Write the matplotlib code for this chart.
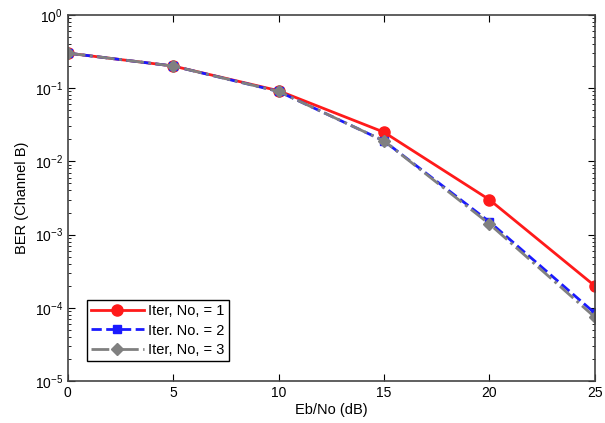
import matplotlib.pyplot as plt
import numpy as np

# --- dados ---
ebno = [0, 5, 10, 15, 20, 25]
ber_iter1 = [0.3, 0.2, 0.092, 0.025, 0.003, 0.0002]
ber_iter2 = [0.3, 0.2, 0.09, 0.019, 0.0015, 0.000085]
ber_iter3 = [0.3, 0.2, 0.09, 0.019, 0.0014, 0.000075]
rotulos = ["Iter, No, = 1", "Iter. No. = 2", "Iter, No, = 3"]

plt.rcParams["font.family"] = ["Liberation Sans", "DejaVu Sans"]

fig = plt.figure(figsize=(6.05, 4.23), dpi=100)
ax = fig.add_axes([0.112, 0.099, 0.871, 0.866])

ax.semilogy(ebno, ber_iter1, color="#ff1a1a", linestyle="-", linewidth=2,
            marker="o", markersize=8, label=rotulos[0])
ax.semilogy(ebno, ber_iter2, color="#1a1aff", linestyle="--", linewidth=2,
            marker="s", markersize=6, label=rotulos[1])
ax.semilogy(ebno, ber_iter3, color="#808080", linestyle="-.", linewidth=2,
            marker="D", markersize=6, label=rotulos[2])

ax.set_xlim(0, 25)
ax.set_ylim(1e-5, 1)
ax.set_xticks([0, 5, 10, 15, 20, 25])
ax.set_yticks([1e-5, 1e-4, 1e-3, 1e-2, 1e-1, 1])
ax.tick_params(which="both", direction="in", top=True, right=True, labelsize=10)
ax.tick_params(which="major", length=5)
ax.tick_params(which="minor", length=2.5)
for s in ax.spines.values():
    s.set_color("#444444")
    s.set_linewidth(1.2)

ax.set_xlabel("Eb/No (dB)", fontsize=10.5, labelpad=2)
ax.set_ylabel("BER (Channel B)", fontsize=10.5, labelpad=4)

leg = ax.legend(loc="lower left", bbox_to_anchor=(0.022, 0.035), fontsize=10.5,
                fancybox=False, framealpha=1, handlelength=3.6,
                borderpad=0.3, labelspacing=0.35, handletextpad=0.3)
leg.get_frame().set_edgecolor("black")
leg.get_frame().set_linewidth(1.0)

plt.savefig("out.png", dpi=100)
